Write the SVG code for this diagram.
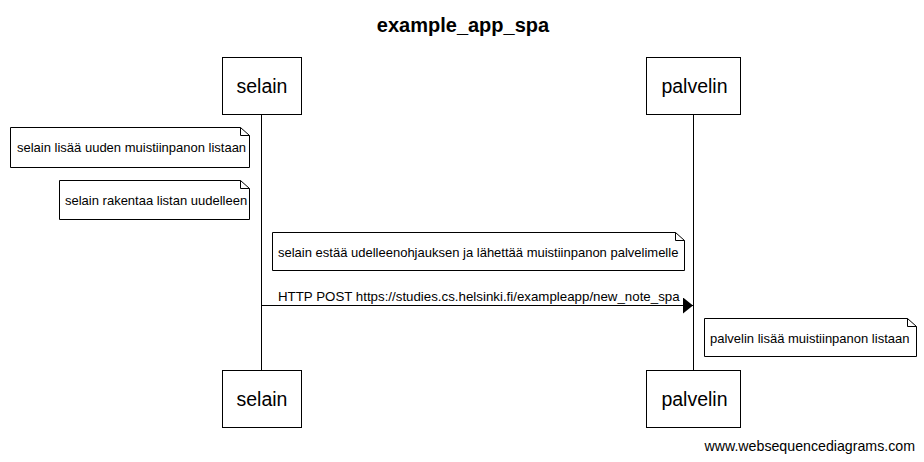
<svg xmlns="http://www.w3.org/2000/svg" width="924" height="462" viewBox="0 0 924 462">
<defs>
<style>
.box{fill:#fff;stroke:#000;stroke-width:1}
.life{stroke:#000;stroke-width:1}
.note{fill:#fff;stroke:#000;stroke-width:1}
.fold{fill:none;stroke:#000;stroke-width:1}
.pt{font-family:"Liberation Sans",Arial,sans-serif;font-size:19.5px;fill:#000;text-anchor:middle}
.nt{font-family:"Liberation Sans",Arial,sans-serif;font-size:13px;fill:#000}
.title{font-family:"Liberation Sans",Arial,sans-serif;font-size:20px;font-weight:bold;fill:#000;text-anchor:middle}
</style>
<marker id="ah" markerWidth="10" markerHeight="16" refX="10" refY="8" orient="auto" markerUnits="userSpaceOnUse">
<path d="M0,0 L10,8 L0,16 Z" fill="#000"/>
</marker>
</defs>
<rect width="924" height="462" fill="#fff"/>
<text class="title" x="463" y="32">example_app_spa</text>
<g id="lifelines">
<line class="life" x1="261.5" y1="114" x2="261.5" y2="370"/>
<line class="life" x1="693.5" y1="114" x2="693.5" y2="370"/>
</g>
<g id="selain">
<rect class="box" x="222.5" y="57.5" width="79" height="57"/>
<text class="pt" x="262" y="93">selain</text>
<rect class="box" x="222.5" y="370.5" width="79" height="57"/>
<text class="pt" x="262" y="406">selain</text>
</g>
<g id="palvelin">
<rect class="box" x="646.5" y="57.5" width="94" height="57"/>
<text class="pt" x="694.5" y="93">palvelin</text>
<rect class="box" x="646.5" y="370.5" width="94" height="57"/>
<text class="pt" x="694.5" y="406">palvelin</text>
</g>
<g id="note1">
<path class="note" d="M10.5,127.5 H240.5 L249.5,135.5 V167.5 H10.5 Z"/>
<path class="fold" d="M240.5,127.5 V135.5 H249.5"/>
<text class="nt" x="17" y="152">selain lisää uuden muistiinpanon listaan</text>
</g>
<g id="note2">
<path class="note" d="M59.5,180.5 H240.5 L249.5,188.5 V219.5 H59.5 Z"/>
<path class="fold" d="M240.5,180.5 V188.5 H249.5"/>
<text class="nt" x="65" y="205">selain rakentaa listan uudelleen</text>
</g>
<g id="note3">
<path class="note" d="M272.5,232.5 H675.5 L684.5,240.5 V270.5 H272.5 Z"/>
<path class="fold" d="M675.5,232.5 V240.5 H684.5"/>
<text class="nt" x="278" y="257">selain estää udelleenohjauksen ja lähettää muistiinpanon palvelimelle</text>
</g>
<g id="note4">
<path class="note" d="M704.5,318.5 H907.5 L916.5,326.5 V356.5 H704.5 Z"/>
<path class="fold" d="M907.5,318.5 V326.5 H916.5"/>
<text class="nt" x="710" y="343">palvelin lisää muistiinpanon listaan</text>
</g>
<g id="connectors">
<line x1="261.5" y1="305.5" x2="693" y2="305.5" stroke="#000" stroke-width="1" marker-end="url(#ah)"/>
<text class="nt" x="278" y="301" style="font-size:13.3px">HTTP POST https://studies.cs.helsinki.fi/exampleapp/new_note_spa</text>
</g>
<text class="nt" x="915" y="451" text-anchor="end" style="font-size:14.2px">www.websequencediagrams.com</text>
</svg>
